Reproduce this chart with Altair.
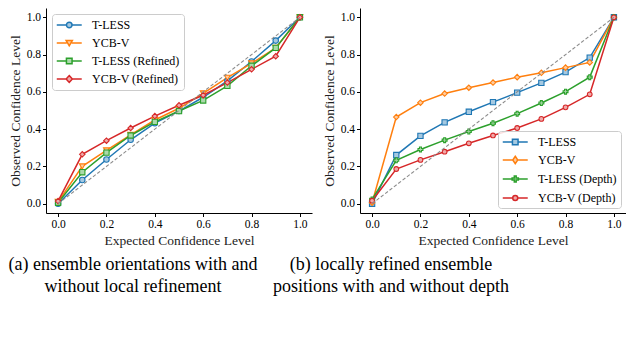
import altair as alt
import pandas as pd

FONT = "Liberation Serif"

expected = [0.0, 0.1, 0.2, 0.3, 0.4, 0.5, 0.6, 0.7, 0.8, 0.9, 1.0]
ticks = [0.0, 0.2, 0.4, 0.6, 0.8, 1.0]

# panel (a)
names_a = ["T-LESS", "YCB-V", "T-LESS (Refined)", "YCB-V (Refined)"]
tless_a = [0.0, 0.127, 0.237, 0.343, 0.432, 0.497, 0.571, 0.659, 0.763, 0.875, 1.0]
ycbv_a = [0.01, 0.200, 0.286, 0.369, 0.449, 0.512, 0.592, 0.676, 0.753, 0.836, 1.0]
tless_ref_a = [0.005, 0.169, 0.274, 0.366, 0.439, 0.497, 0.554, 0.632, 0.740, 0.836, 1.0]
ycbv_ref_a = [0.014, 0.265, 0.338, 0.406, 0.470, 0.528, 0.582, 0.650, 0.721, 0.791, 1.0]

# panel (b)
names_b = ["T-LESS", "YCB-V", "T-LESS (Depth)", "YCB-V (Depth)"]
tless_b = [0.0, 0.261, 0.364, 0.436, 0.493, 0.545, 0.596, 0.648, 0.706, 0.784, 1.0]
ycbv_b = [0.005, 0.465, 0.542, 0.591, 0.622, 0.650, 0.679, 0.702, 0.730, 0.758, 1.0]
tless_depth_b = [0.023, 0.233, 0.291, 0.341, 0.387, 0.432, 0.483, 0.540, 0.601, 0.679, 1.0]
ycbv_depth_b = [0.016, 0.186, 0.235, 0.279, 0.324, 0.366, 0.406, 0.455, 0.517, 0.587, 1.0]

captions = [
    "(a) ensemble orientations with and\nwithout local refinement",
    "(b) locally refined ensemble\npositions with and without depth",
]

colors = ["#1f77b4", "#ff7f0e", "#2ca02c", "#d62728"]
fills = ["#a5c9e1", "#ffcc9f", "#abd9ab", "#efa9a9"]

shapes_a = ["circle", "triangle-down", "square", "diamond"]
sizes_a = [30, 34, 28, 30]
shapes_b = ["square", "diamond", "cross", "circle"]
sizes_b = [28, 30, 24, 22]

# legend symbols: line with a marker on it (custom paths)
P_CIRCLE = "M-1,0H0.55M1.45,0H3M1.45,0A0.45,0.45 0 1,1 0.55,0A0.45,0.45 0 1,1 1.45,0Z"
P_TRI = "M-1,0H0.6M1.4,0H3M0.5,-0.4L1.5,-0.4L1,0.45Z"
P_SQUARE = "M-1,0H0.55M1.45,0H3M0.55,-0.45H1.45V0.45H0.55Z"
P_DIAMOND = "M-1,0H0.5M1.5,0H3M1,-0.55L1.5,0L1,0.55L0.5,0Z"
P_THIN_DIAMOND = "M-1,0H0.6M1.4,0H3M1,-0.6L1.4,0L1,0.6L0.6,0Z"
P_CROSS = "M-1,0H0.5M1.5,0H3M0.85,-0.5H1.15V-0.15H1.5V0.15H1.15V0.5H0.85V0.15H0.5V-0.15H0.85Z"
P_SMALL_CIRCLE = "M-1,0H0.6M1.4,0H3M1.4,0A0.4,0.4 0 1,1 0.6,0A0.4,0.4 0 1,1 1.4,0Z"

legend_paths_a = [P_CIRCLE, P_TRI, P_SQUARE, P_DIAMOND]
legend_paths_b = [P_SQUARE, P_THIN_DIAMOND, P_CROSS, P_SMALL_CIRCLE]

# internal keys so the two panels do not share legend entries
keys_a = ["a1", "a2", "a3", "a4"]
keys_b = ["b1", "b2", "b3", "b4"]
all_keys = keys_a + keys_b
all_names = names_a + names_b
label_expr = " : ".join(
    f"datum.label == '{k}' ? '{n}'" for k, n in zip(all_keys, all_names)
) + " : datum.label"


def long_df(keys, values):
    rows = []
    for k, vals in zip(keys, values):
        for x, y in zip(expected, vals):
            rows.append({"series": k, "expected": x, "observed": y})
    return pd.DataFrame(rows)


diag = pd.DataFrame({"expected": [0.0, 1.0], "observed": [0.0, 1.0]})

AXIS_STYLE = dict(
    values=ticks, format=".1f", grid=False, domainColor="black", tickColor="black",
    labelColor="black", titleColor="#222222", labelFont=FONT, titleFont=FONT,
    labelFontSize=11.5, titleFontSize=13.5, titleFontWeight="normal", tickSize=3.5,
    domainWidth=1, tickWidth=1, labelPadding=2,
)

shape_scale = alt.Scale(domain=all_keys, range=legend_paths_a + legend_paths_b)
stroke_scale = alt.Scale(domain=all_keys, range=colors + colors)
fill_scale = alt.Scale(domain=all_keys, range=fills + fills)


def panel(keys, values, shapes, sizes, orient, offset, w, h):
    df = long_df(keys, values)
    sc = alt.Scale(domain=[-0.05, 1.05], nice=False, zero=False)
    xenc = alt.X("expected:Q", scale=sc,
                 axis=alt.Axis(title="Expected Confidence Level", titlePadding=3, **AXIS_STYLE))
    yenc = alt.Y("observed:Q", scale=sc,
                 axis=alt.Axis(title="Observed Confidence Level", titlePadding=4, **AXIS_STYLE))
    base = alt.Chart(df).encode(x=xenc, y=yenc)
    lines = base.mark_line(strokeWidth=1.5).encode(
        color=alt.Color("series:N", scale=stroke_scale, legend=None)
    )
    pts = []
    for k, s, sz, c, f in zip(keys, shapes, sizes, colors, fills):
        pts.append(
            base.transform_filter(alt.datum.series == k).mark_point(
                shape=s, size=sz, filled=True, fill=f, stroke=c, strokeWidth=1.1, opacity=1
            )
        )
    dline = alt.Chart(diag).mark_line(
        color="#8c8c8c", strokeDash=[3.5, 2], strokeWidth=1.1
    ).encode(x=xenc, y=yenc)
    leg = alt.Legend(title=None, orient=orient, offset=offset, padding=4, values=keys,
                     labelExpr=label_expr,
                     strokeColor="#cccccc", fillColor="rgba(255,255,255,0.85)",
                     cornerRadius=3, symbolSize=156, labelOffset=22, rowPadding=5,
                     symbolStrokeWidth=1.5, labelFont=FONT, labelFontSize=12,
                     labelColor="black")
    legend_layer = base.transform_filter("datum.expected > 2").mark_point(
        strokeWidth=1.5, opacity=1
    ).encode(
        shape=alt.Shape("series:N", scale=shape_scale, legend=leg),
        stroke=alt.Stroke("series:N", scale=stroke_scale, legend=leg),
        fill=alt.Fill("series:N", scale=fill_scale, legend=leg),
    )
    return alt.layer(lines, *pts, dline, legend_layer).properties(width=w, height=h)


left = panel(keys_a, [tless_a, ycbv_a, tless_ref_a, ycbv_ref_a], shapes_a, sizes_a,
             "top-left", 6, 266, 205)
right = panel(keys_b, [tless_b, ycbv_b, tless_depth_b, ycbv_depth_b], shapes_b, sizes_b,
              "bottom-right", 5, 266, 205)


def caption_chart(text, w, cx):
    return alt.Chart(pd.DataFrame({"caption": [text]})).mark_text(
        lineBreak="\n", font=FONT, fontSize=18, lineHeight=22,
        align="center", baseline="middle", color="black"
    ).encode(text="caption:N", x=alt.value(cx), y=alt.value(14)).properties(width=w, height=50)


top = alt.hconcat(left, right, spacing=10).resolve_legend(
    shape="independent", stroke="independent", fill="independent"
)
bottom = alt.hconcat(caption_chart(captions[0], 215, 87),
                     caption_chart(captions[1], 250, 130), spacing=0)

chart = alt.vconcat(top, bottom, spacing=4).properties(
    padding={"left": 0, "top": 0, "right": 0, "bottom": 0}
).configure_view(stroke=None)

chart.save("out.html", embed_options={"renderer": "svg", "actions": False})
